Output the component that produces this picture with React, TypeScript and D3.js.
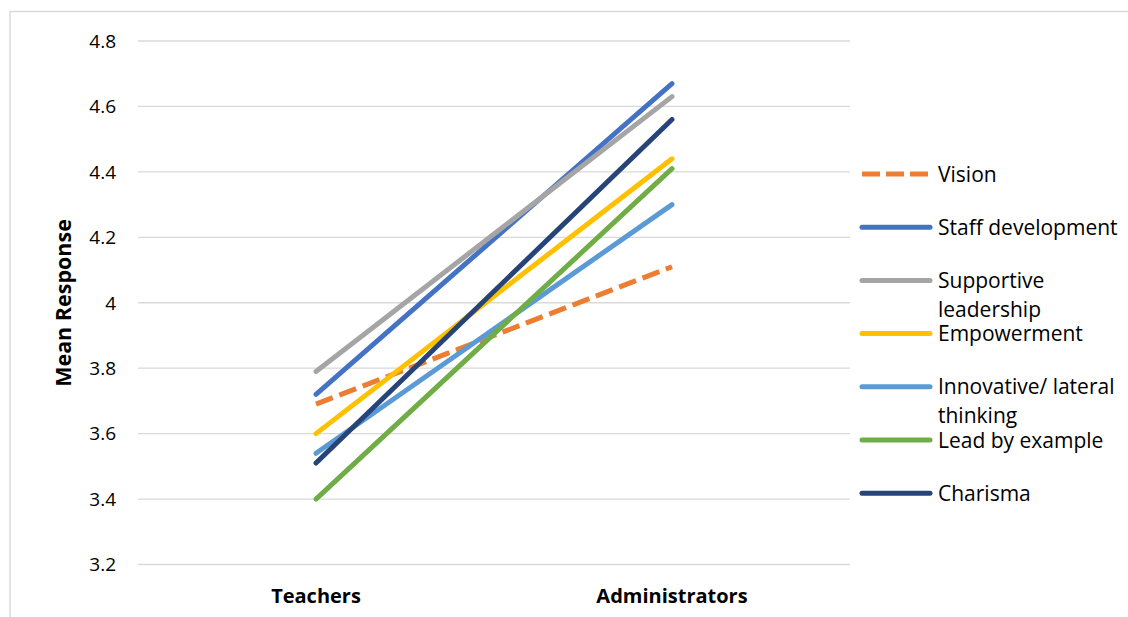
import React from "react";
import * as d3 from "d3";

const categories = ["Teachers", "Administrators"];
const seriesNames = [
  "Vision",
  "Staff development",
  "Supportive leadership",
  "Empowerment",
  "Innovative/ lateral thinking",
  "Lead by example",
  "Charisma",
];
const legendLines = [
  ["Vision"],
  ["Staff development"],
  ["Supportive", "leadership"],
  ["Empowerment"],
  ["Innovative/ lateral", "thinking"],
  ["Lead by example"],
  ["Charisma"],
];
const visionValues = [3.69, 4.11];
const staffValues = [3.72, 4.67];
const supportiveValues = [3.79, 4.63];
const empowermentValues = [3.6, 4.44];
const innovativeValues = [3.54, 4.3];
const leadValues = [3.4, 4.41];
const charismaValues = [3.51, 4.56];
const seriesValues = [
  visionValues,
  staffValues,
  supportiveValues,
  empowermentValues,
  innovativeValues,
  leadValues,
  charismaValues,
];
const colors = ["#ED7D31", "#4472C4", "#A5A5A5", "#FFC000", "#5B9BD5", "#70AD47", "#264478"];
const yTicks = [3.2, 3.4, 3.6, 3.8, 4, 4.2, 4.4, 4.6, 4.8];

const W = 1128;
const H = 617;
const FONT = "'Open Sans', Lato, sans-serif";

export default function App() {
  const x = d3.scaleBand().domain(categories).range([138, 850]);
  const y = d3.scaleLinear().domain([3.2, 4.8]).range([564.5, 41]);
  const line = d3
    .line<number>()
    .x((_, i) => (x(categories[i]) as number) + x.bandwidth() / 2)
    .y((d) => y(d));

  return (
    <svg
      width={W}
      height={H}
      style={{ position: "absolute", left: 0, top: 0, background: "#fff" }}
    >
      <rect x={10} y={11.5} width={W + 10} height={H + 10} fill="#fff" stroke="#d9d9d9" strokeWidth={1.5} />
      {yTicks.map((t) => (
        <g key={t}>
          <line x1={138} x2={850} y1={y(t)} y2={y(t)} stroke="#d9d9d9" strokeWidth={1.3} />
          <text
            x={116}
            y={y(t)}
            dy="0.36em"
            textAnchor="end"
            fontFamily={FONT}
            fontSize={19}
            fill="#000"
          >
            {d3.format("~g")(t)}
          </text>
        </g>
      ))}
      {categories.map((c) => (
        <text
          key={c}
          x={(x(c) as number) + x.bandwidth() / 2}
          y={603}
          textAnchor="middle"
          fontFamily={FONT}
          fontWeight="bold"
          fontSize={20}
          fill="#000"
        >
          {c}
        </text>
      ))}
      <text
        transform="translate(71,303) rotate(-90)"
        textAnchor="middle"
        fontFamily={FONT}
        fontWeight="bold"
        fontSize={21.5}
        fill="#000"
      >
        Mean Response
      </text>
      {seriesValues.map((vals, i) => (
        <path
          key={seriesNames[i]}
          d={line(vals) as string}
          fill="none"
          stroke={colors[i]}
          strokeWidth={5}
          strokeLinecap={i === 0 ? "butt" : "round"}
          strokeDasharray={i === 0 ? "18,7" : undefined}
        />
      ))}
      {legendLines.map((lines, i) => {
        const cy = 174 + i * 53.2;
        return (
          <g key={i}>
            <line
              x1={862}
              x2={930}
              y1={cy}
              y2={cy}
              stroke={colors[i]}
              strokeWidth={5}
              strokeLinecap={i === 0 ? "butt" : "round"}
              strokeDasharray={i === 0 ? "18,6" : undefined}
            />
            {lines.map((l, j) => (
              <text
                key={j}
                x={938}
                y={cy + j * 29}
                dy="0.36em"
                fontFamily={FONT}
                fontSize={21}
                fill="#000"
              >
                {l}
              </text>
            ))}
          </g>
        );
      })}
    </svg>
  );
}
